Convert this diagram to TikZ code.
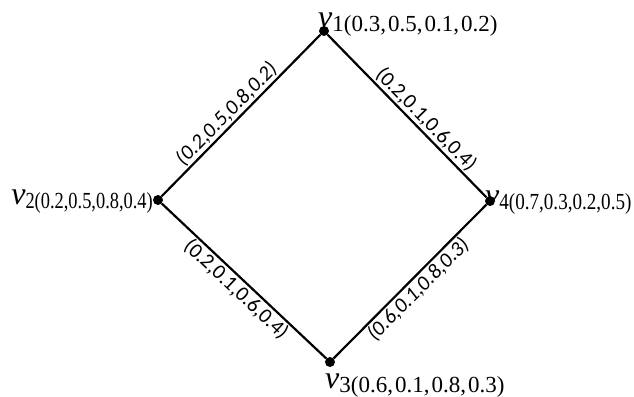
\documentclass[tikz,border=0pt]{standalone}
\usepackage{fontspec}
\setmainfont{Liberation Serif}
\newfontfamily\lblfont{Carlito}
\usepackage{graphicx}
\newcommand{\vsym}{\raisebox{4pt}{\fontsize{32}{32}\selectfont\itshape v}}
\newcommand{\cs}{,\kern2pt}
\begin{document}
\begin{tikzpicture}[x=1pt,y=-1pt,
  vtx/.style={circle,fill=black,inner sep=0pt,minimum size=10pt},
  edgeline/.style={line width=2.2pt,black},
  elab/.style={font=\lblfont\fontsize{21}{21}\selectfont,inner sep=1.2pt,sloped},
  vlab/.style={inner sep=0pt,font=\fontsize{23}{23}\selectfont}]
\useasboundingbox (0,0) rectangle (634,396);
\node[vtx] (v1) at (324,31) {};
\node[vtx] (v2) at (158,200) {};
\node[vtx] (v3) at (330,362) {};
\node[vtx] (v4) at (490,201) {};
\draw[edgeline] (v2) -- node[elab,above,pos=0.46]{\itshape(0.2,0.5,0.8,0.2)} (v1);
\draw[edgeline] (v1) -- node[elab,above,pos=0.57]{(0.2,0.1,0.6,0.4)} (v4);
\draw[edgeline] (v2) -- node[elab,below,pos=0.5]{(0.2,0.1,0.6,0.4)} (v3);
\draw[edgeline] (v3) -- node[elab,below,pos=0.5]{\itshape(0.6,0.1,0.8,0.3)} (v4);
\node[vlab,anchor=base west] (l1) at (318,32) {\vsym 1(0.3\cs 0.5\cs 0.1\cs 0.2)};
\node[vlab,anchor=base west] (l3) at (325,392) {\vsym 3(0.6\cs 0.1\cs 0.8\cs 0.3)};
\node[vlab,anchor=base east] (l2) at (153,208) {\vsym\scalebox{0.8}[1]{2(0.2,0.5,0.8,0.4)}};
\node[vlab,anchor=base west] (l4) at (485,209) {\vsym\scalebox{0.83}[1]{4(0.7,0.3,0.2,0.5)}};
\end{tikzpicture}
\end{document}
